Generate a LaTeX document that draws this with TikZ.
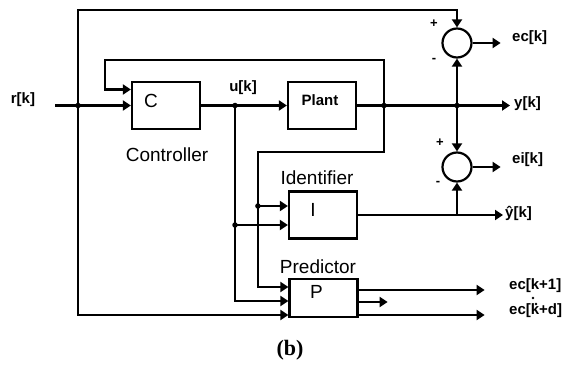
\documentclass[tikz,border=0pt]{standalone}
\usepackage{fontspec}
\setmainfont{Liberation Sans}
\newfontfamily\capserif{Liberation Serif}
\usetikzlibrary{arrows.meta,calc}

\tikzset{
  blk/.style={draw,line width=2.2pt,minimum width=68pt,minimum height=47pt,inner sep=0pt},
  sumc/.style={draw,circle,line width=2.2pt,minimum size=29pt,inner sep=0pt},
  wire/.style={line width=2.2pt},
  arr/.style={wire,-{Triangle[length=8pt,width=10pt]}},
  jdot/.style={circle,fill,inner sep=0pt,minimum size=5.5pt},
  sig/.style={font=\fontsize{15}{15}\selectfont\bfseries,inner sep=0pt},
  blab/.style={font=\fontsize{19}{19}\selectfont,inner sep=0pt},
  sgn/.style={font=\fontsize{13}{13}\selectfont\bfseries,inner sep=0pt},
}

\begin{document}
\begin{tikzpicture}[x=1pt,y=-1pt]
\useasboundingbox (0,0) rectangle (563,369);

%ブロック
\node[blk] (C) at (166,105.5) {}; %制御器
\node[blk] (Pl) at (322,105.5) {}; %プラント
\node[blk] (I) at (323,215) {}; %同定器
\node[blk,minimum height=38pt] (P) at (323.5,298) {}; %予測器
\node[sumc] (S1) at (457,43) {}; %加算点上
\node[sumc] (S2) at (457,167) {}; %加算点下

%ブロック内の文字
\node[blab] (Ct) at ($(C)+(-15,-5)$) {C};
\node[sig] (Plt) at ($(Pl)+(-2,-5)$) {Plant};
\node[blab] (It) at ($(I)+(-10,-5)$) {I};
\node[blab] (Pt) at ($(P)+(-7,-6)$) {P};

%分岐点
\coordinate (rin) at (55,105.5);
\coordinate (j1) at (78,105.5);
\coordinate (ju) at (235,105.5);
\coordinate (j2) at (384,105.5);
\coordinate (j3) at (457,105.5);
\coordinate (cin) at ($(C.west)+(0,-16)$);
\coordinate (iin1) at ($(I.west)+(0,-9)$);
\coordinate (iin2) at ($(I.west)+(0,10)$);
\coordinate (pin1) at ($(P.west)+(0,-11)$);
\coordinate (pin2) at ($(P.west)+(0,3)$);
\coordinate (pin3) at ($(P.west)+(0,17)$);
\coordinate (pout1) at ($(P.east)+(0,-8)$);
\coordinate (pout2) at ($(P.east)+(0,4)$);
\coordinate (pout3) at ($(P.east)+(0,17)$);
\coordinate (j4) at ($(iin1)+(-30,0)$);
\coordinate (yend) at (510,105.5);
\coordinate (yhend) at (503,215);

%主経路
\draw[arr](rin)to(C.west); %入力
\draw[arr](C.east)to(Pl.west); %操作量
\draw[arr](Pl.east)to(yend); %出力

%外側ループ
\draw[arr](j1)--++(0,-95.5)-|(S1.north);
\draw[arr](j1)|-(pin3);

%内側ループ
\draw[arr](j2)--++(0,-45.5)-|($(cin)+(-26,0)$)to(cin);
\draw[arr](j2)--++(0,46.5)-|(j4)|-(pin1);
\draw[arr](j4)to(iin1);

%u[k]の分岐
\draw[arr](ju)|-(pin2);
\draw[arr](ju|-iin2)to(iin2);

%加算点
\draw[arr](j3)to(S1.south);
\draw[arr](j3)to(S2.north);
\draw[arr](I.east)to(yhend);
\draw[arr](I.east-|S2)to(S2.south);
\draw[arr](S1.east)--++(28,0);
\draw[arr](S2.east)--++(28,0);

%予測器の出力
\draw[arr](pout1)--++(126,0);
\draw[arr](pout2)--++(29,0);
\draw[arr](pout3)--++(126,0);

%点
\node[jdot] (d1) at (j1) {};
\node[jdot] (d2) at (ju) {};
\node[jdot] (d3) at (j2) {};
\node[jdot] (d4) at (j3) {};
\node[jdot] (d5) at (j4) {};
\node[jdot] (d6) at (ju|-iin2) {};

%信号名
\node[sig] (rk) at (23,100) {r[k]};
\node[sig] (uk) at (243,88) {u[k]};
\node[sig,anchor=west] (eck) at (512,38) {ec[k]};
\node[sig,anchor=west] (yk) at (514,104) {y[k]};
\node[sig,anchor=west] (eik) at (512,160) {ei[k]};
\node[sig,anchor=west] (yhk) at (505,213) {ŷ[k]};
\node[sig,anchor=west] (ec1) at (509,286) {ec[k+1]};
\node[sig,anchor=west] (ecd) at (509,311) {ec[k+d]};
\fill (533,298) circle (1.3); \fill (536,304) circle (1.4); %省略点

%符号
\node[sgn] (s1p) at (434,24) {+};
\node[sgn] (s1m) at (434,60) {-};
\node[sgn] (s2p) at (440,143) {+};
\node[sgn] (s2m) at (438,183) {-};

%ブロック名
\node[blab] (ctl) at (167,155) {Controller};
\node[blab] (idf) at (317,178) {Identifier};
\node[blab] (prd) at (318,267) {Predictor};
\node[font=\capserif\bfseries\fontsize{22}{22}\selectfont] (cap) at (290,350) {(b)};
\end{tikzpicture}
\end{document}
